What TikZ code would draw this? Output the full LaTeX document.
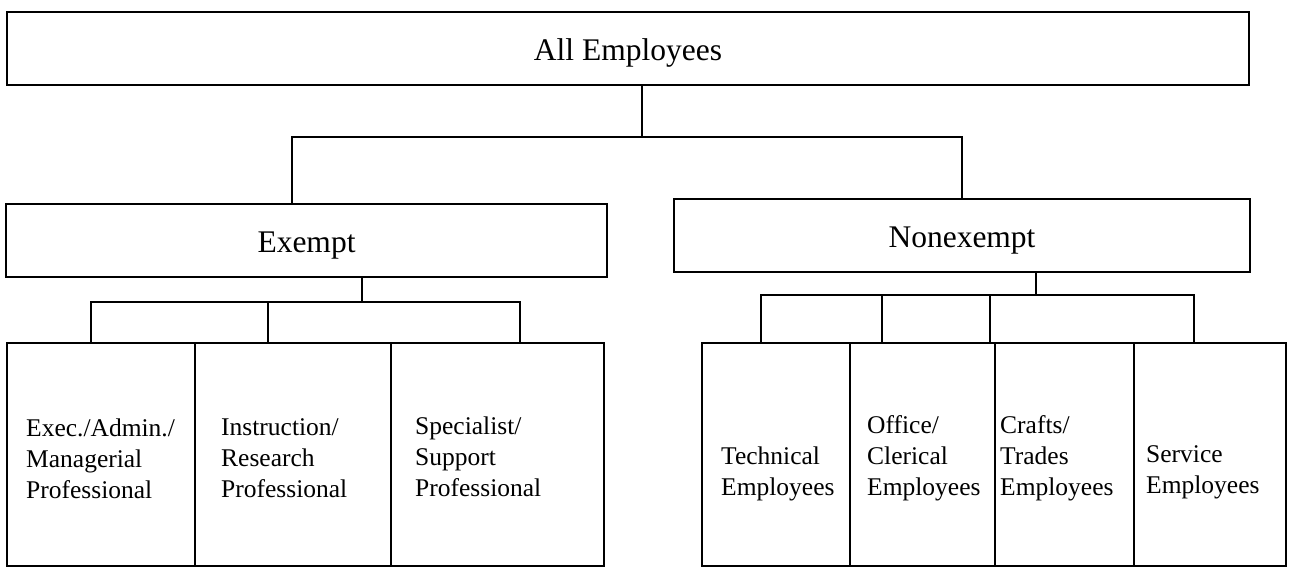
\documentclass[tikz,border=0pt]{standalone}
\usepackage{fontspec}
\setmainfont{Liberation Serif}
\usetikzlibrary{positioning}
\tikzset{
  box/.style={draw, line width=2.4pt, inner sep=0pt, outer sep=0pt},
  head/.style={box, minimum height=73, text height=24pt, text depth=0pt},
  cell/.style={box, minimum height=223, anchor=west},
  lbl/.style={align=left, inner sep=0pt, anchor=west, font=\fontsize{25.5}{31}\selectfont},
  con/.style={line width=1.8pt},
}
\begin{document}
\begin{tikzpicture}[x=1pt, y=-1pt, font=\fontsize{31.5}{38}\selectfont]
%		\draw [help lines] (0,0) grid [step=50] (1291,570);
		\useasboundingbox (0,0) rectangle (1291,570);
		% first two levels
		\node [head, minimum width=1242] (all) at (628,48.5) {All Employees};
		\node [head, minimum width=601] (exempt) at (306.5,240.5) {Exempt};
		\node [head, minimum width=576] (nonexempt) at (962,235.5) {Nonexempt};
		% exempt groups
		\node [cell, minimum width=188] (e1) at (7,454.5) {};
		\node [cell, minimum width=196, right=0pt of e1] (e2) {};
		\node [cell, minimum width=213, right=0pt of e2] (e3) {};
		\node [lbl] (e1t) at ([xshift=19pt, yshift=-4pt]e1.west) {Exec./Admin./\\Managerial\\Professional};
		\node [lbl] (e2t) at ([xshift=26pt, yshift=-4pt]e2.west) {Instruction/\\Research\\Professional};
		\node [lbl] (e3t) at ([xshift=24pt, yshift=-2pt]e3.west) {Specialist/\\Support\\Professional};
		% nonexempt groups
		\node [cell, minimum width=148] (n1) at (702,454.5) {};
		\node [cell, minimum width=145, right=0pt of n1] (n2) {};
		\node [cell, minimum width=139, right=0pt of n2] (n3) {};
		\node [cell, minimum width=152, right=0pt of n3] (n4) {};
		\node [lbl] (n1t) at ([xshift=19pt, yshift=-19pt]n1.west) {Technical\\Employees};
		\node [lbl] (n2t) at ([xshift=17pt, yshift=-4pt]n2.west) {Office/\\Clerical\\Employees};
		\node [lbl] (n3t) at ([xshift=5pt, yshift=-4pt]n3.west) {Crafts/\\Trades\\Employees};
		\node [lbl] (n4t) at ([xshift=12pt, yshift=-18pt]n4.west) {Service\\Employees};
		% connectors
		\coordinate (busA) at (642,137);
		\coordinate (busL) at (292,137);
		\coordinate (busR) at (962,137);
		\draw [con] (all.south -| busA) -- (busA);
		\draw [con] (exempt.north -| busL) -- (busL) -- (busR) -- (nonexempt.north);
		\coordinate (exA) at (362,302);
		\coordinate (ex1) at (91,302);
		\coordinate (ex2) at (268,302);
		\coordinate (ex3) at (520,302);
		\draw [con] (exempt.south -| exA) -- (exA);
		\draw [con] (e1.north -| ex1) -- (ex1) -- (ex3) -- (e3.north -| ex3);
		\draw [con] (e2.north -| ex2) -- (ex2);
		\coordinate (nxA) at (1036,295);
		\coordinate (nx1) at (761,295);
		\coordinate (nx2) at (882,295);
		\coordinate (nx3) at (990,295);
		\coordinate (nx4) at (1194,295);
		\draw [con] (nonexempt.south -| nxA) -- (nxA);
		\draw [con] (n1.north -| nx1) -- (nx1) -- (nx4) -- (n4.north -| nx4);
		\draw [con] (n2.north -| nx2) -- (nx2);
		\draw [con] (n2.north -| nx3) -- (nx3);
\end{tikzpicture}
\end{document}
